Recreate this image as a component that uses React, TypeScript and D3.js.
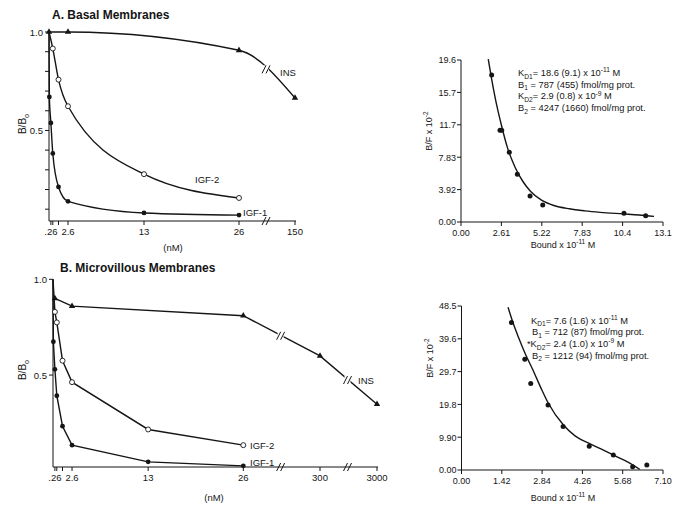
import React from 'react';
import * as d3 from 'd3';

// ---------- Panel A: Basal membranes (competition) ----------
const basalIgf1Conc = [0.05, 0.26, 0.52, 1.3, 2.6, 13, 26];
const basalIgf1 = [0.67, 0.538, 0.383, 0.213, 0.14, 0.081, 0.07];
const basalIgf2Conc = [0.52, 1.3, 2.6, 13, 26];
const basalIgf2 = [0.916, 0.758, 0.623, 0.278, 0.157];
const basalInsConc = [0, 2.6, 26, 150];
const basalIns = [1.0, 1.0, 0.907, 0.665];
const basalInsBreak = 0.81;
const basalXTicks = [0.26, 0.52, 1.3, 2.6, 13, 26, 150];
const basalXLabels = ['.26', '', '', '2.6', '13', '26', '150'];
const basalYTicks = [0.1, 0.2, 0.3, 0.4, 0.5, 0.6, 0.7, 0.8, 0.9, 1.0];
const basalYLabels = ['', '', '', '', '0.5', '', '', '', '', '1.0'];

// ---------- Panel B: Microvillous membranes (competition) ----------
const microIgf1Conc = [0.05, 0.26, 0.52, 1.3, 2.6, 13, 26];
const microIgf1 = [0.674, 0.53, 0.392, 0.233, 0.134, 0.047, 0.026];
const microIgf2Conc = [0.26, 0.52, 1.3, 2.6, 13, 26];
const microIgf2 = [0.83, 0.775, 0.575, 0.463, 0.216, 0.134];
const microInsConc = [0.26, 2.6, 26, 300, 3000];
const microIns = [0.9, 0.86, 0.81, 0.6, 0.348];
const microXTicks = [0.26, 0.52, 1.3, 2.6, 13, 26, 300, 3000];
const microXLabels = ['.26', '', '', '2.6', '13', '26', '300', '3000'];
const microYTicks = [0.5, 1.0];
const microYLabels = ['0.5', '1.0'];

// ---------- Scatchard A ----------
const scatAx = [1.98, 2.52, 2.63, 3.12, 3.64, 4.46, 5.28, 10.53, 11.93];
const scatAy = [17.8, 11.1, 11.1, 8.43, 5.77, 3.15, 2.06, 1.05, 0.76];
const fitAx = [1.76, 1.98, 2.3, 2.6, 3.0, 3.5, 4.0, 4.5, 5.2, 6.0, 7.0, 8.0, 9.0, 10.5, 11.5, 12.47];
const fitAy = [19.7, 17.3, 14.2, 11.8, 9.0, 6.6, 4.9, 3.7, 2.65, 2.0, 1.6, 1.35, 1.17, 0.98, 0.85, 0.68];
const scatAXTicks = [0, 2.61, 5.22, 7.83, 10.44, 13.05];
const scatAXLabels = ['0.00', '2.61', '5.22', '7.83', '10.4', '13.1'];
const scatAYTicks = [0, 3.92, 7.84, 11.76, 15.68, 19.6];
const scatAYLabels = ['0.00', '3.92', '7.83', '11.7', '15.7', '19.6'];

// ---------- Scatchard B ----------
const scatBx = [1.76, 2.23, 2.44, 3.05, 3.58, 4.5, 5.35, 6.03, 6.53];
const scatBy = [44.5, 33.4, 26.1, 19.6, 13.1, 7.2, 4.5, 1.0, 1.5];
const fitBx = [1.64, 1.8, 2.0, 2.25, 2.5, 2.84, 3.05, 3.6, 4.0, 4.5, 5.0, 5.5, 6.0, 6.28];
const fitBy = [49.1, 44.8, 40.2, 35.0, 30.5, 24.0, 20.3, 13.5, 10.3, 8.0, 6.0, 3.9, 1.7, 0.2];
const scatBXTicks = [0, 1.42, 2.84, 4.26, 5.68, 7.1];
const scatBXLabels = ['0.00', '1.42', '2.84', '4.26', '5.68', '7.10'];
const scatBYTicks = [0, 9.9, 19.8, 29.7, 39.6, 49.5];
const scatBYLabels = ['0.00', '9.90', '19.8', '29.7', '39.6', '48.5'];

type Part = { t: string; s?: 'sub' | 'sup' };
const textA: Part[][] = [
  [{ t: 'K' }, { t: 'D1', s: 'sub' }, { t: '= 18.6 (9.1) x 10' }, { t: '-11', s: 'sup' }, { t: ' M' }],
  [{ t: 'B' }, { t: '1', s: 'sub' }, { t: ' = 787 (455) fmol/mg prot.' }],
  [{ t: 'K' }, { t: 'D2', s: 'sub' }, { t: '= 2.9 (0.8) x 10' }, { t: '-9', s: 'sup' }, { t: ' M' }],
  [{ t: 'B' }, { t: '2', s: 'sub' }, { t: ' = 4247 (1660) fmol/mg prot.' }],
];
const textB: Part[][] = [
  [{ t: 'K' }, { t: 'D1', s: 'sub' }, { t: '= 7.6 (1.6) x 10' }, { t: '-11', s: 'sup' }, { t: ' M' }],
  [{ t: 'B' }, { t: '1', s: 'sub' }, { t: ' = 712 (87) fmol/mg prot.' }],
  [{ t: '*K' }, { t: 'D2', s: 'sub' }, { t: '= 2.4 (1.0) x 10' }, { t: '-9', s: 'sup' }, { t: ' M' }],
  [{ t: 'B' }, { t: '2', s: 'sub' }, { t: ' = 1212 (94) fmol/mg prot.' }],
];

const FONT = '"Liberation Sans", Arial, Helvetica, sans-serif';
const INK = '#151515';

function Rich({ x, y, parts, size, anchor = 'start', transform }: any) {
  let cur = 0;
  return (
    <text x={x} y={y} fontSize={size} textAnchor={anchor} transform={transform} fill={INK} fontFamily={FONT}>
      {parts.map((p: Part, i: number) => {
        const target = p.s === 'sub' ? size * 0.3 : p.s === 'sup' ? -size * 0.4 : 0;
        const dy = target - cur;
        cur = target;
        return (
          <tspan key={i} dy={dy} fontSize={p.s ? size * 0.72 : size}>
            {p.t}
          </tspan>
        );
      })}
    </text>
  );
}

function BreakMark({ x, y }: { x: number; y: number }) {
  return (
    <g stroke={INK} strokeWidth={1}>
      <line x1={x - 5} y1={y + 4} x2={x - 1} y2={y - 4} />
      <line x1={x - 1} y1={y + 4} x2={x + 3} y2={y - 4} />
    </g>
  );
}

function Markers({ xs, ys, sx, sy, kind }: any) {
  const tri = d3.symbol().type(d3.symbolTriangle).size(18)();
  return (
    <g>
      {xs.map((v: number, i: number) => {
        const cx = sx(v), cy = sy(ys[i]);
        if (kind === 'tri') return <path key={i} d={tri as string} transform={`translate(${cx},${cy})`} fill={INK} />;
        if (kind === 'open') return <circle key={i} cx={cx} cy={cy} r={2.5} fill="#fff" stroke={INK} strokeWidth={0.9} />;
        return <circle key={i} cx={cx} cy={cy} r={2.4} fill={INK} />;
      })}
    </g>
  );
}

function CompPanel({ title, titleX, titleY, sx, sy, x0, x1, yAxisTop, yAxisBottom, xTicks, xLabels, yTicks, yLabels,
  series, smooth, breaks, insBreaks, labels, nmX, nmY, ylabY }: any) {
  const line = d3.line<[number, number]>().curve(smooth ? d3.curveMonotoneX : d3.curveLinear);
  return (
    <g fontFamily={FONT}>
      <text x={titleX} y={titleY} fontSize={12} fontWeight="bold" fill={INK}>{title}</text>
      <line x1={x0} y1={yAxisTop} x2={x0} y2={yAxisBottom} stroke={INK} strokeWidth={1} />
      <line x1={x0} y1={yAxisBottom} x2={x1} y2={yAxisBottom} stroke={INK} strokeWidth={1} />
      {yTicks.map((t: number, i: number) => (
        <g key={i}>
          <line x1={x0 - 4} x2={x0} y1={sy(t)} y2={sy(t)} stroke={INK} strokeWidth={1} />
          {yLabels[i] && <text x={x0 - 6} y={sy(t) + 3.5} fontSize={9.5} textAnchor="end" fill={INK}>{yLabels[i]}</text>}
        </g>
      ))}
      {xTicks.map((t: number, i: number) => (
        <g key={i}>
          <line x1={sx(t)} x2={sx(t)} y1={yAxisBottom} y2={yAxisBottom + 4} stroke={INK} strokeWidth={1} />
          {xLabels[i] && <text x={sx(t)} y={yAxisBottom + 14} fontSize={9.5} textAnchor="middle" fill={INK}>{xLabels[i]}</text>}
        </g>
      ))}
      {breaks.map((b: number, i: number) => <BreakMark key={i} x={b} y={yAxisBottom} />)}
      {series.map((s: any, i: number) => {
        const pts: [number, number][] = s.xs.map((v: number, j: number) => [sx(v), sy(s.ys[j])]);
        if (s.start) pts.unshift([sx(0), sy(1)]);
        return (
          <g key={i}>
            <path d={line(pts) as string} fill="none" stroke={INK} strokeWidth={1.4} />
            <Markers xs={s.xs} ys={s.ys} sx={sx} sy={sy} kind={s.kind} />
          </g>
        );
      })}
      {insBreaks.map((b: any, i: number) => (
        <g key={i}>
          <rect x={b.x - 4} y={b.y - 4} width={6} height={8} fill="#fff" />
          <BreakMark x={b.x} y={b.y} />
        </g>
      ))}
      {labels.map((l: any, i: number) => (
        <text key={i} x={l.x} y={l.y} fontSize={9.5} fill={INK}>{l.t}</text>
      ))}
      <text x={nmX} y={nmY} fontSize={9.5} textAnchor="middle" fill={INK}>(nM)</text>
      <Rich x={0} y={0} size={10} anchor="middle" transform={`translate(26,${ylabY}) rotate(-90)`}
        parts={[{ t: 'B/B' }, { t: 'o', s: 'sub' }]} />
    </g>
  );
}

function ScatPanel({ sx, sy, x0, x1, y0, y1, xTicks, xLabels, yTicks, yLabels, px, py, fx, fy, text, textX, textY, lineH, ylabX, ylabY, xlabY }: any) {
  const line = d3.line<number>().x((_, i) => sx(fx[i])).y((d) => sy(d)).curve(d3.curveMonotoneX);
  return (
    <g fontFamily={FONT}>
      <line x1={x0} y1={y1} x2={x0} y2={y0} stroke={INK} strokeWidth={1} />
      <line x1={x0} y1={y0} x2={x1} y2={y0} stroke={INK} strokeWidth={1} />
      {yTicks.map((t: number, i: number) => (
        <g key={i}>
          <line x1={x0 - 4} x2={x0} y1={sy(t)} y2={sy(t)} stroke={INK} strokeWidth={1} />
          <text x={x0 - 5} y={sy(t) + 3.3} fontSize={9} textAnchor="end" fill={INK}>{yLabels[i]}</text>
        </g>
      ))}
      {xTicks.map((t: number, i: number) => (
        <g key={i}>
          <line x1={sx(t)} x2={sx(t)} y1={y0} y2={y0 + 4} stroke={INK} strokeWidth={1} />
          <text x={sx(t)} y={y0 + 14} fontSize={9} textAnchor="middle" fill={INK}>{xLabels[i]}</text>
        </g>
      ))}
      <path d={line(fy) as string} fill="none" stroke={INK} strokeWidth={1.4} />
      {px.map((v: number, i: number) => <circle key={i} cx={sx(v)} cy={sy(py[i])} r={2.5} fill={INK} />)}
      {text.map((parts: Part[], i: number) => (
        <Rich key={i} x={textX[i]} y={textY + i * lineH} size={9.3} parts={parts} />
      ))}
      <Rich x={0} y={0} size={9} anchor="middle" transform={`translate(${ylabX},${ylabY}) rotate(-90)`}
        parts={[{ t: 'B/F x 10' }, { t: '-2', s: 'sup' }]} />
      <Rich x={563} y={xlabY} size={9} anchor="middle" parts={[{ t: 'Bound x 10' }, { t: '-11', s: 'sup' }, { t: ' M' }]} />
    </g>
  );
}

export default function App() {
  const xA = d3.scaleLinear().domain([0, 26, 150]).range([49, 239, 295]);
  const yA = d3.scaleLinear().domain([0.04, 1]).range([221, 32]);
  const xB = d3.scaleLinear().domain([0, 26, 300, 3000]).range([53, 243.3, 320, 377]);
  const yB = d3.scaleLinear().domain([0.02, 1]).range([467, 279.3]);

  const sxA = d3.scaleLinear().domain([0, 13.05]).range([461, 663]);
  const syA = d3.scaleLinear().domain([0, 19.6]).range([222, 60]);
  const sxB = d3.scaleLinear().domain([0, 7.1]).range([461.5, 663]);
  const syB = d3.scaleLinear().domain([0, 49.5]).range([470, 306]);

  const midA = (xA(26) + xA(150)) / 2;
  const brB1 = (xB(26) + xB(300)) / 2;
  const brB2 = (xB(300) + xB(3000)) / 2;
  const lerp = (xp: number, xa: number, ya: number, xb: number, yb: number) => ya + ((xp - xa) / (xb - xa)) * (yb - ya);
  const insB1y = lerp(brB1, xB(26), yB(microIns[2]), xB(300), yB(microIns[3]));
  const insB2y = lerp(brB2, xB(300), yB(microIns[3]), xB(3000), yB(microIns[4]));

  return (
    <svg width={685} height={511} style={{ position: 'absolute', left: 0, top: 0, background: '#fff' }}>
      <rect width={685} height={511} fill="#fff" />
      <CompPanel title="A. Basal Membranes" titleX={52} titleY={19} sx={xA} sy={yA} x0={49} x1={296}
        yAxisTop={32} yAxisBottom={221} xTicks={basalXTicks} xLabels={basalXLabels}
        yTicks={basalYTicks} yLabels={basalYLabels} smooth={true}
        series={[
          { xs: basalIgf1Conc, ys: basalIgf1, kind: 'filled', start: true },
          { xs: basalIgf2Conc, ys: basalIgf2, kind: 'open', start: true },
          { xs: basalInsConc, ys: basalIns, kind: 'tri', start: false },
        ]}
        breaks={[midA]} insBreaks={[{ x: midA, y: yA(basalInsBreak) }]}
        labels={[
          { t: 'INS', x: 280, y: 76 },
          { t: 'IGF-2', x: 195, y: 183 },
          { t: 'IGF-1', x: 243, y: 216 },
        ]}
        nmX={173} nmY={251} ylabY={124} />
      <CompPanel title="B. Microvillous Membranes" titleX={60} titleY={272} sx={xB} sy={yB} x0={53} x1={378}
        yAxisTop={279.3} yAxisBottom={467} xTicks={microXTicks} xLabels={microXLabels}
        yTicks={microYTicks} yLabels={microYLabels} smooth={false}
        series={[
          { xs: microIgf1Conc, ys: microIgf1, kind: 'filled', start: true },
          { xs: microIgf2Conc, ys: microIgf2, kind: 'open', start: true },
          { xs: microInsConc, ys: microIns, kind: 'tri', start: false },
        ]}
        breaks={[brB1, brB2]} insBreaks={[{ x: brB1, y: insB1y }, { x: brB2, y: insB2y }]}
        labels={[
          { t: 'INS', x: 358, y: 384 },
          { t: 'IGF-2', x: 250, y: 449 },
          { t: 'IGF-1', x: 250, y: 466 },
        ]}
        nmX={214} nmY={501} ylabY={370} />
      <ScatPanel sx={sxA} sy={syA} x0={461} x1={663} y0={222} y1={60}
        xTicks={scatAXTicks} xLabels={scatAXLabels} yTicks={scatAYTicks} yLabels={scatAYLabels}
        px={scatAx} py={scatAy} fx={fitAx} fy={fitAy} text={textA} textX={[518, 518, 518, 518]} textY={76} lineH={11.7}
        ylabX={432} ylabY={131} xlabY={248} />
      <ScatPanel sx={sxB} sy={syB} x0={461.5} x1={663} y0={470} y1={306}
        xTicks={scatBXTicks} xLabels={scatBXLabels} yTicks={scatBYTicks} yLabels={scatBYLabels}
        px={scatBx} py={scatBy} fx={fitBx} fy={fitBy} text={textB} textX={[531, 532, 527, 532]} textY={323.5} lineH={11.7}
        ylabX={433} ylabY={358} xlabY={501} />
    </svg>
  );
}
